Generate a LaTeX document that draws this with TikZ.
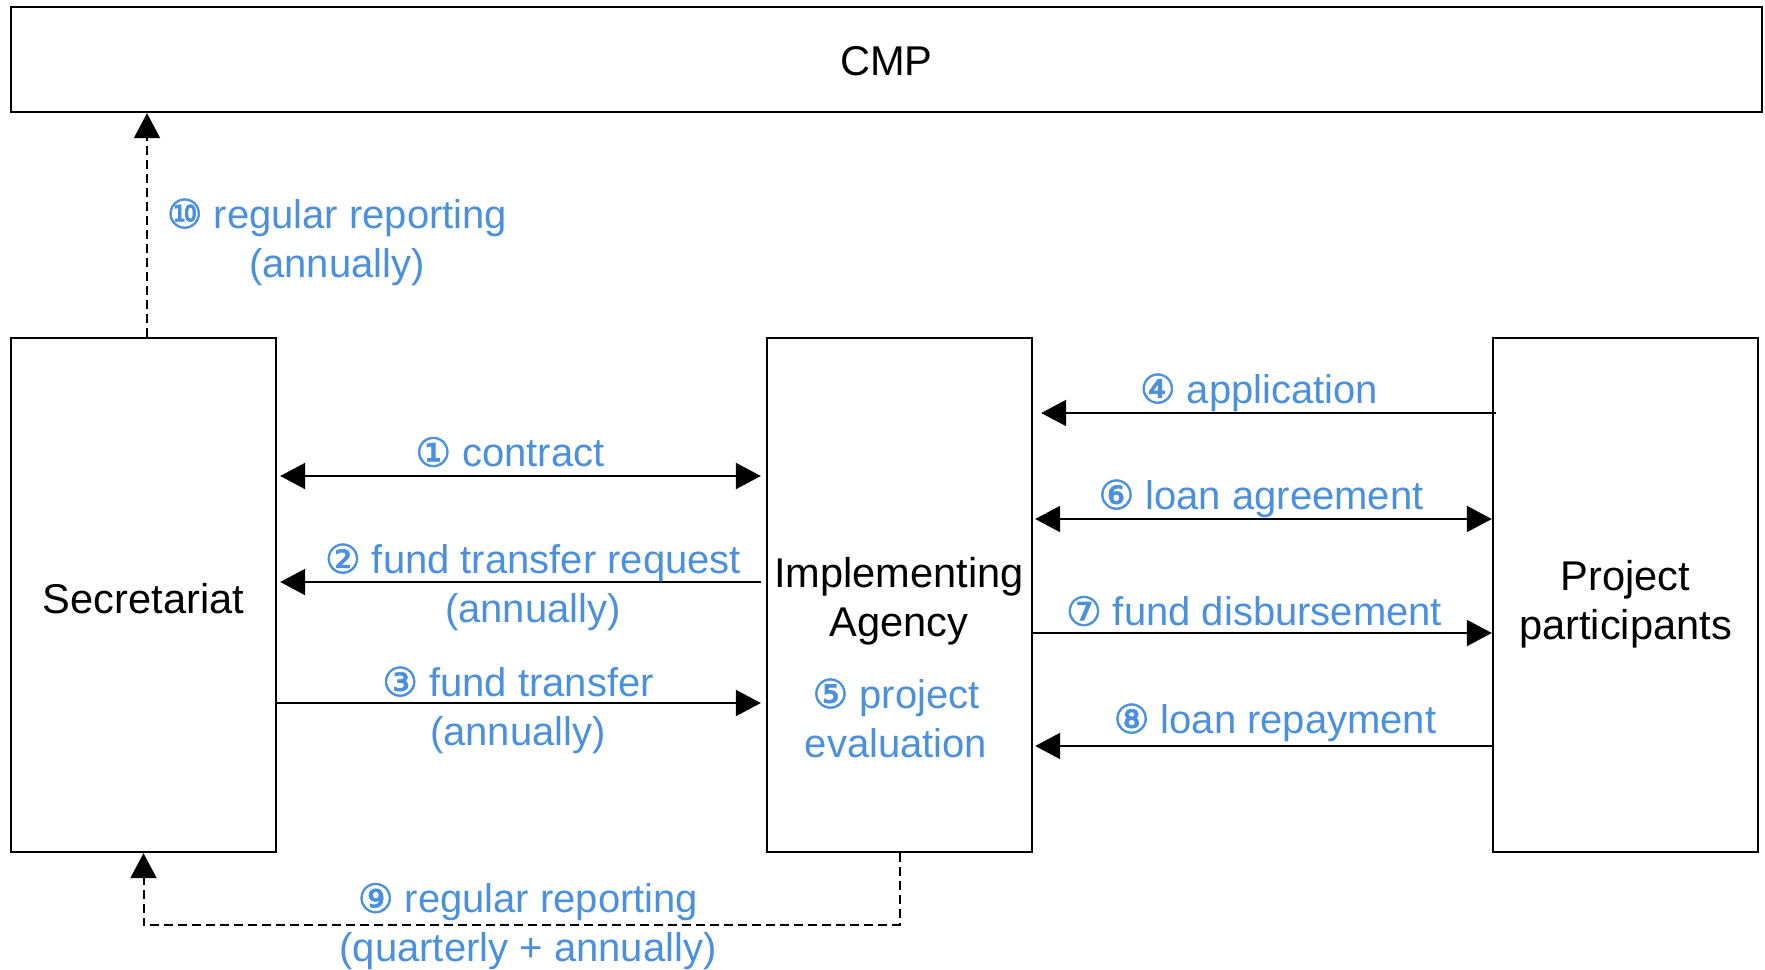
\documentclass[tikz,border=0pt]{standalone}
\usepackage{fontspec}
\setmainfont{Liberation Sans}
\newfontfamily\circfnt{DejaVu Sans}[FakeBold=1.6]
\usetikzlibrary{arrows.meta}
\definecolor{lblue}{RGB}{74,144,220}
\newcommand\cn[1]{{\circfnt #1}}
\tikzset{
 box/.style={draw, line width=1.2pt, inner sep=0pt},
 btext/.style={inner sep=0pt, font=\fontsize{20.8pt}{24.5pt}\selectfont, align=center},
 lbl/.style={text=lblue, font=\fontsize{20pt}{24.5pt}\selectfont, align=center, inner sep=0pt},
 conn/.style={line width=1.1pt, -{Triangle[length=12.5pt,width=13pt]}},
 dconn/.style={line width=1.1pt, {Triangle[length=12.5pt,width=13pt]}-{Triangle[length=12.5pt,width=13pt]}},
 dashconn/.style={line width=1pt, dash pattern=on 4.5pt off 2.5pt, -{Triangle[length=12.5pt,width=13pt]}},
}
\begin{document}
\begin{tikzpicture}[x=0.5pt,y=-0.5pt]
\useasboundingbox (0,0) rectangle (1765,969);
\node[box, minimum width=875.5pt, minimum height=52.5pt] (cmp) at (886.5,59.5) {};
\node[box, minimum width=132.5pt, minimum height=257pt] (sec) at (143.5,595) {};
\node[box, minimum width=132.5pt, minimum height=257pt] (ia) at (899.5,595) {};
\node[box, minimum width=132.5pt, minimum height=257pt] (pp) at (1625.5,595) {};
\node[btext] (cmptext) at (886.5,61) {CMP};
\node[btext] (sectext) at (143.5,598.5) {Secretariat};
\node[btext] (iatext) at (899,601.5) {Implementing\\Agency};
\node[btext] (pptext) at (1625.5,604) {Project\\participants};

\coordinate (y1) at (0,476);
\coordinate (y2) at (0,582);
\coordinate (y3) at (0,703);
\coordinate (y4) at (0,413);
\coordinate (y6) at (0,519);
\coordinate (y7) at (0,633);
\coordinate (y8) at (0,746);
\coordinate (c10) at (147,0);
\coordinate (c9) at (0,925);

\draw[dconn, shorten <=1.5pt, shorten >=2.5pt] (sec.east |- y1) -- (ia.west |- y1);
\draw[conn, shorten <=2.5pt, shorten >=1.5pt] (ia.west |- y2) -- (sec.east |- y2);
\draw[conn, shorten >=2.5pt] (sec.east |- y3) -- (ia.west |- y3);
\draw[conn, shorten >=4pt] ([xshift=2pt]pp.west |- y4) -- (ia.east |- y4);
\draw[dconn, shorten <=1pt] (ia.east |- y6) -- (pp.west |- y6);
\draw[conn] (ia.east |- y7) -- (pp.west |- y7);
\draw[conn, shorten >=1pt] (pp.west |- y8) -- (ia.east |- y8);
\draw[dashconn] (sec.north -| c10) -- (cmp.south -| c10);
\draw[dashconn] (ia.south) -- (ia.south |- c9) -- (sec.south |- c9) -- (sec.south);

\node[lbl] (l10) at (337,242) {\cn{⑩} regular reporting\\(annually)};
\node[lbl] (l1) at (510,452) {\cn{①} contract};
\node[lbl] (l2) at (533,587) {\cn{②} fund transfer request\\(annually)};
\node[lbl] (l3) at (518,710) {\cn{③} fund transfer\\(annually)};
\node[lbl] (l5) at (896,718) {\cn{⑤} project\\evaluation};
\node[lbl] (l4) at (1259,392.5) {\cn{④} application};
\node[lbl] (l6) at (1261,498.5) {\cn{⑥} loan agreement};
\node[lbl] (l7) at (1254,611) {\cn{⑦} fund disbursement};
\node[lbl] (l8) at (1275,722.5) {\cn{⑧} loan repayment};
\node[lbl] (l9) at (528,926.5) {\cn{⑨} regular reporting\\(quarterly + annually)};
\end{tikzpicture}
\end{document}
